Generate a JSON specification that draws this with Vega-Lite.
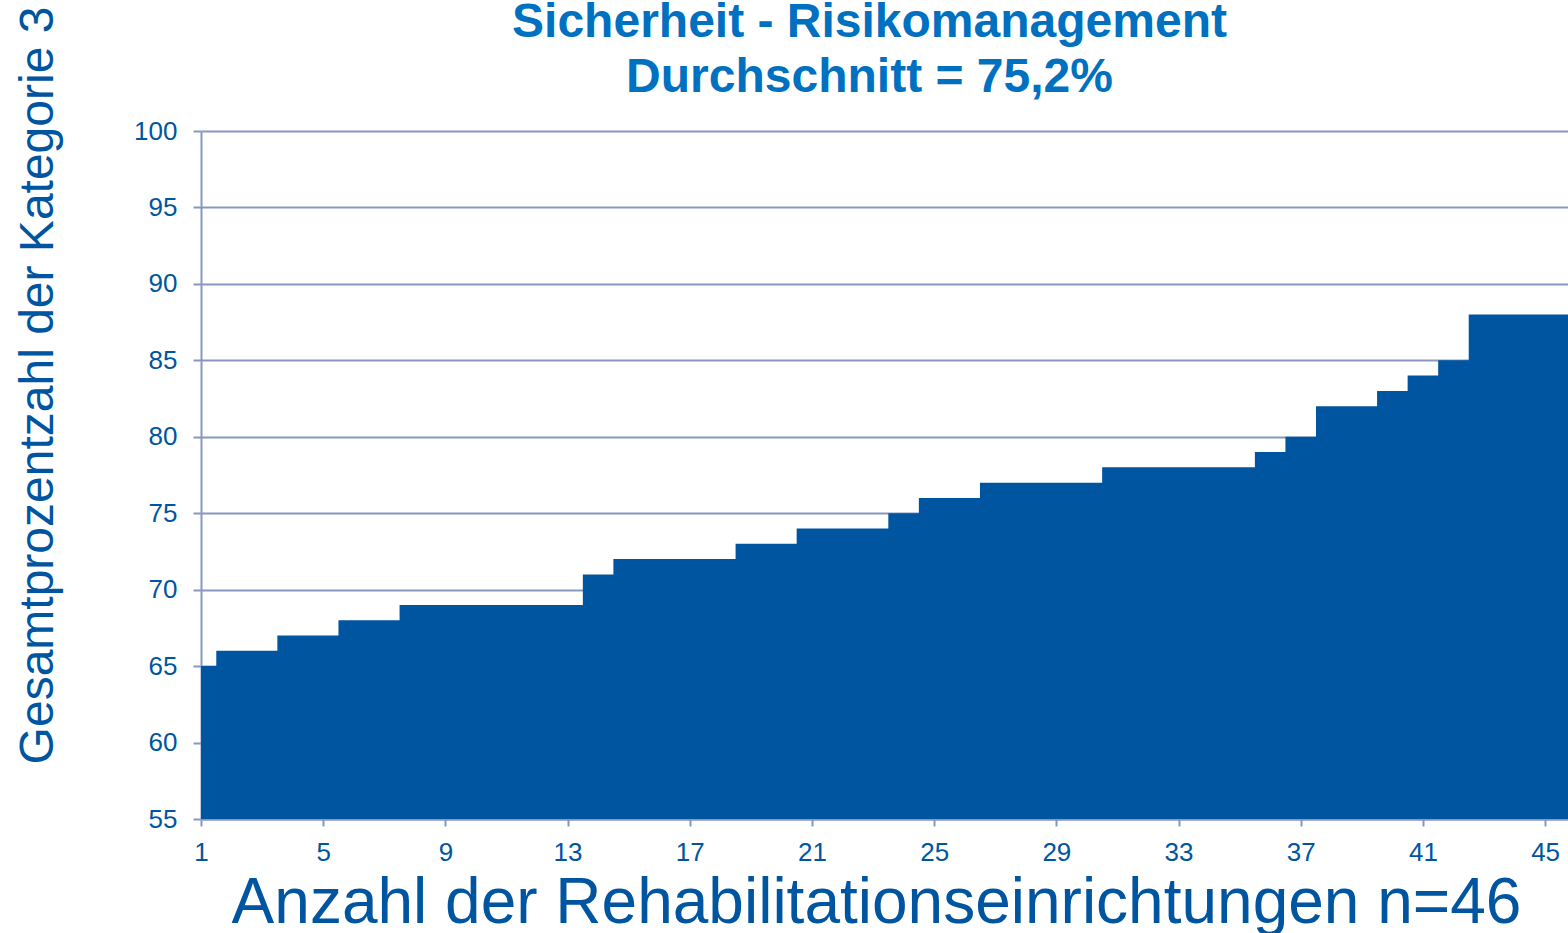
{
  "$schema": "https://vega.github.io/schema/vega-lite/v6.json",
  "width": 1367,
  "height": 688,
  "autosize": {"type": "none"},
  "padding": {"left": 201, "top": 131, "right": 0, "bottom": 114},
  "background": "white",
  "title": {
    "text": ["Sicherheit - Risikomanagement", "Durchschnitt = 75,2%"],
    "font": "Liberation Sans",
    "fontSize": 48,
    "fontWeight": "bold",
    "color": "#0070C0",
    "anchor": "middle",
    "lineHeight": 55,
    "offset": 12,
    "dx": -15,
    "dy": 108
  },
  "data": {
    "values": [
      {"n": 1, "v": 65}, {"n": 2, "v": 66}, {"n": 3, "v": 66}, {"n": 4, "v": 67}, {"n": 5, "v": 67},
      {"n": 6, "v": 68}, {"n": 7, "v": 68}, {"n": 8, "v": 69}, {"n": 9, "v": 69}, {"n": 10, "v": 69},
      {"n": 11, "v": 69}, {"n": 12, "v": 69}, {"n": 13, "v": 69}, {"n": 14, "v": 71}, {"n": 15, "v": 72},
      {"n": 16, "v": 72}, {"n": 17, "v": 72}, {"n": 18, "v": 72}, {"n": 19, "v": 73}, {"n": 20, "v": 73},
      {"n": 21, "v": 74}, {"n": 22, "v": 74}, {"n": 23, "v": 74}, {"n": 24, "v": 75}, {"n": 25, "v": 76},
      {"n": 26, "v": 76}, {"n": 27, "v": 77}, {"n": 28, "v": 77}, {"n": 29, "v": 77}, {"n": 30, "v": 77},
      {"n": 31, "v": 78}, {"n": 32, "v": 78}, {"n": 33, "v": 78}, {"n": 34, "v": 78}, {"n": 35, "v": 78},
      {"n": 36, "v": 79}, {"n": 37, "v": 80}, {"n": 38, "v": 82}, {"n": 39, "v": 82}, {"n": 40, "v": 83},
      {"n": 41, "v": 84}, {"n": 42, "v": 85}, {"n": 43, "v": 88}, {"n": 44, "v": 88}, {"n": 45, "v": 88},
      {"n": 46, "v": 88}
    ]
  },
  "mark": {"type": "area", "interpolate": "step", "color": "#0055A0", "clip": true},
  "encoding": {
    "x": {
      "field": "n",
      "type": "quantitative",
      "scale": {"domain": [1, 45.75], "nice": false, "zero": false},
      "axis": {
        "values": [1, 5, 9, 13, 17, 21, 25, 29, 33, 37, 41, 45],
        "grid": false,
        "labelFlush": false,
        "title": "Anzahl der Rehabilitationseinrichtungen n=46",
        "titleFont": "Liberation Sans",
        "titleFontSize": 64,
        "titleFontWeight": "normal",
        "titleColor": "#0055A0",
        "titleX": 675,
        "titleY": 103,
        "titleAlign": "center",
        "titleBaseline": "alphabetic",
        "labelFont": "Liberation Sans",
        "labelFontSize": 26,
        "labelColor": "#0055A0",
        "labelPadding": 13,
        "tickSize": 7,
        "tickColor": "#8797C0",
        "tickWidth": 2,
        "domainColor": "#8797C0",
        "domainWidth": 2
      }
    },
    "y": {
      "field": "v",
      "type": "quantitative",
      "scale": {"domain": [55, 100], "nice": false, "zero": false},
      "axis": {
        "values": [55, 60, 65, 70, 75, 80, 85, 90, 95, 100],
        "grid": true,
        "gridColor": "#8797C0",
        "gridWidth": 2,
        "title": "Gesamtprozentzahl der Kategorie 3",
        "titleFont": "Liberation Sans",
        "titleFontSize": 48,
        "titleFontWeight": "normal",
        "titleColor": "#0055A0",
        "titleAngle": -90,
        "titleX": -149,
        "titleY": 254,
        "titleAlign": "center",
        "titleBaseline": "alphabetic",
        "labelFont": "Liberation Sans",
        "labelFontSize": 26,
        "labelColor": "#0055A0",
        "labelPadding": 16,
        "tickSize": 8,
        "tickColor": "#8797C0",
        "tickWidth": 2,
        "domainColor": "#8797C0",
        "domainWidth": 2
      }
    },
    "y2": {"datum": 55}
  },
  "config": {"view": {"stroke": null}}
}
